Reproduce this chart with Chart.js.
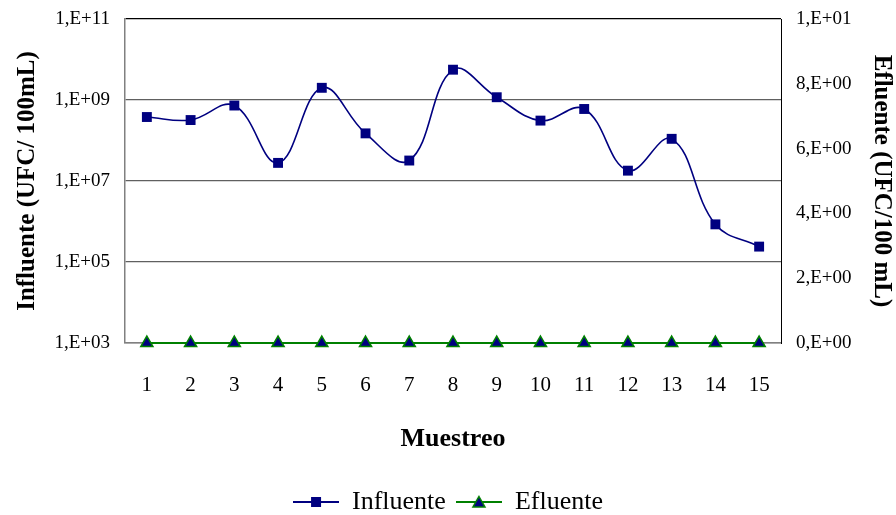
<!DOCTYPE html>
<html>
<head>
<meta charset="utf-8">
<script src="https://cdn.jsdelivr.net/npm/chart.js@4"></script>
<style>
  html, body { margin: 0; padding: 0; background: #fff; }
  #wrap { width: 896px; height: 515px; }
</style>
</head>
<body>
<div id="wrap"><canvas id="muestreoChart" width="896" height="515"></canvas></div>
<script>
const muestreos = ['1', '2', '3', '4', '5', '6', '7', '8', '9', '10', '11', '12', '13', '14', '15'];
const influente = [3.8e8, 3.2e8, 7.3e8, 2.8e7, 2.0e9, 1.5e8, 3.2e7, 5.6e9, 1.17e9, 3.1e8, 6.0e8, 1.8e7, 1.1e8, 8.5e5, 2.4e5];
const efluente = [0, 0, 0, 0, 0, 0, 0, 0, 0, 0, 0, 0, 0, 0, 0];
const leftTicks = [1e3, 1e5, 1e7, 1e9, 1e11];
const leftTickLabels = ['1,E+03', '1,E+05', '1,E+07', '1,E+09', '1,E+11'];
const rightTickLabels = ['0,E+00', '2,E+00', '4,E+00', '6,E+00', '8,E+00', '1,E+01'];

const serif = "'Liberation Serif', 'DejaVu Serif', serif";

// legend swatch: short line with the marker in the middle
function swatch(lineColor, drawMarker) {
    const c = document.createElement('canvas');
    c.width = 46; c.height = 14;
    const ctx = c.getContext('2d');
    ctx.strokeStyle = lineColor;
    ctx.lineWidth = 2;
    ctx.beginPath();
    ctx.moveTo(0, 7);
    ctx.lineTo(46, 7);
    ctx.stroke();
    drawMarker(ctx);
    return c;
}
const influenteSwatch = swatch('#000080', ctx => {
    ctx.fillStyle = '#000080';
    ctx.fillRect(18, 2, 10, 10);
});
const efluenteSwatch = swatch('#008000', ctx => {
    ctx.fillStyle = '#000080';
    ctx.strokeStyle = '#008000';
    ctx.lineWidth = 1.5;
    ctx.beginPath();
    ctx.moveTo(23, 1.5);
    ctx.lineTo(29, 12);
    ctx.lineTo(17, 12);
    ctx.closePath();
    ctx.fill();
    ctx.stroke();
});

// keep the plot area where the reference has it
const noVerticalOverhang = axis => {
    axis.paddingTop = 0;
    axis.paddingBottom = 0;
};

const muestreoChart = document.getElementById('muestreoChart');

new Chart(muestreoChart, {
    type: 'line',
    data: {
        labels: muestreos,
        datasets: [
            {
                label: 'Influente',
                data: influente,
                yAxisID: 'yInf',
                borderColor: '#000080',
                backgroundColor: '#000080',
                borderWidth: 1.6,
                tension: 0.4,
                pointStyle: 'rect',
                pointRadius: 7,
                pointBorderWidth: 0,
                pointBackgroundColor: '#000080',
                clip: false
            },
            {
                label: 'Efluente',
                data: efluente,
                yAxisID: 'yEf',
                borderColor: '#008000',
                backgroundColor: '#000080',
                borderWidth: 2,
                tension: 0,
                pointStyle: 'triangle',
                pointRadius: 7,
                pointBorderWidth: 1.5,
                pointBorderColor: '#008000',
                pointBackgroundColor: '#000080',
                clip: false
            }
        ]
    },
    options: {
        responsive: false,
        animation: false,
        layout: { padding: { top: 19, bottom: -10 } },
        scales: {
            x: {
                offset: true,
                afterFit: axis => { axis.height = 136; },
                grid: { display: false, drawTicks: false },
                border: { color: '#808080', width: 1.5 },
                ticks: {
                    color: '#000',
                    padding: 30,
                    font: { family: serif, size: 21 },
                    maxRotation: 0
                },
                title: {
                    display: true,
                    text: 'Muestreo',
                    color: '#000',
                    font: { family: serif, size: 26, weight: 'bold' },
                    padding: { top: 0, bottom: 24 }
                }
            },
            yInf: {
                type: 'logarithmic',
                position: 'left',
                min: 1e3,
                max: 1e11,
                afterBuildTicks: axis => {
                    axis.ticks = leftTicks.map(v => ({ value: v }));
                },
                afterFit: axis => {
                    axis.width = 125;
                    noVerticalOverhang(axis);
                },
                grid: {
                    drawTicks: false,
                    color: ctx => (ctx.tick && ctx.tick.value === 1e11 ? '#000' : '#606060'),
                    lineWidth: 1.3
                },
                border: { color: '#808080', width: 1.5 },
                ticks: {
                    color: '#000',
                    padding: 15,
                    font: { family: serif, size: 19 },
                    callback: value => leftTickLabels[leftTicks.indexOf(value)]
                },
                title: {
                    display: true,
                    text: 'Influente (UFC/ 100mL)',
                    color: '#000',
                    font: { family: serif, size: 25, weight: 'bold' },
                    padding: { top: 13, bottom: 0 }
                }
            },
            yEf: {
                type: 'linear',
                position: 'right',
                min: 0,
                max: 10,
                afterFit: axis => {
                    axis.width = 115;
                    noVerticalOverhang(axis);
                },
                grid: { display: false, drawTicks: false },
                border: { color: '#000', width: 1 },
                ticks: {
                    stepSize: 2,
                    color: '#000',
                    padding: 15,
                    font: { family: serif, size: 19 },
                    callback: (value, i) => rightTickLabels[i]
                },
                title: {
                    display: true,
                    text: 'Efluente (UFC/100 mL)',
                    color: '#000',
                    font: { family: serif, size: 25, weight: 'bold' },
                    padding: { top: 0, bottom: 0 }
                }
            }
        },
        plugins: {
            legend: {
                position: 'bottom',
                labels: {
                    color: '#000',
                    font: { family: serif, size: 26 },
                    usePointStyle: true,
                    pointStyleWidth: 46,
                    padding: 10,
                    generateLabels: chart => chart.data.datasets.map((ds, i) => ({
                        text: ds.label,
                        pointStyle: i === 0 ? influenteSwatch : efluenteSwatch,
                        fontColor: '#000',
                        datasetIndex: i,
                        hidden: false,
                        lineWidth: 0
                    }))
                }
            },
            tooltip: { enabled: false }
        }
    }
});
</script>
</body>
</html>
